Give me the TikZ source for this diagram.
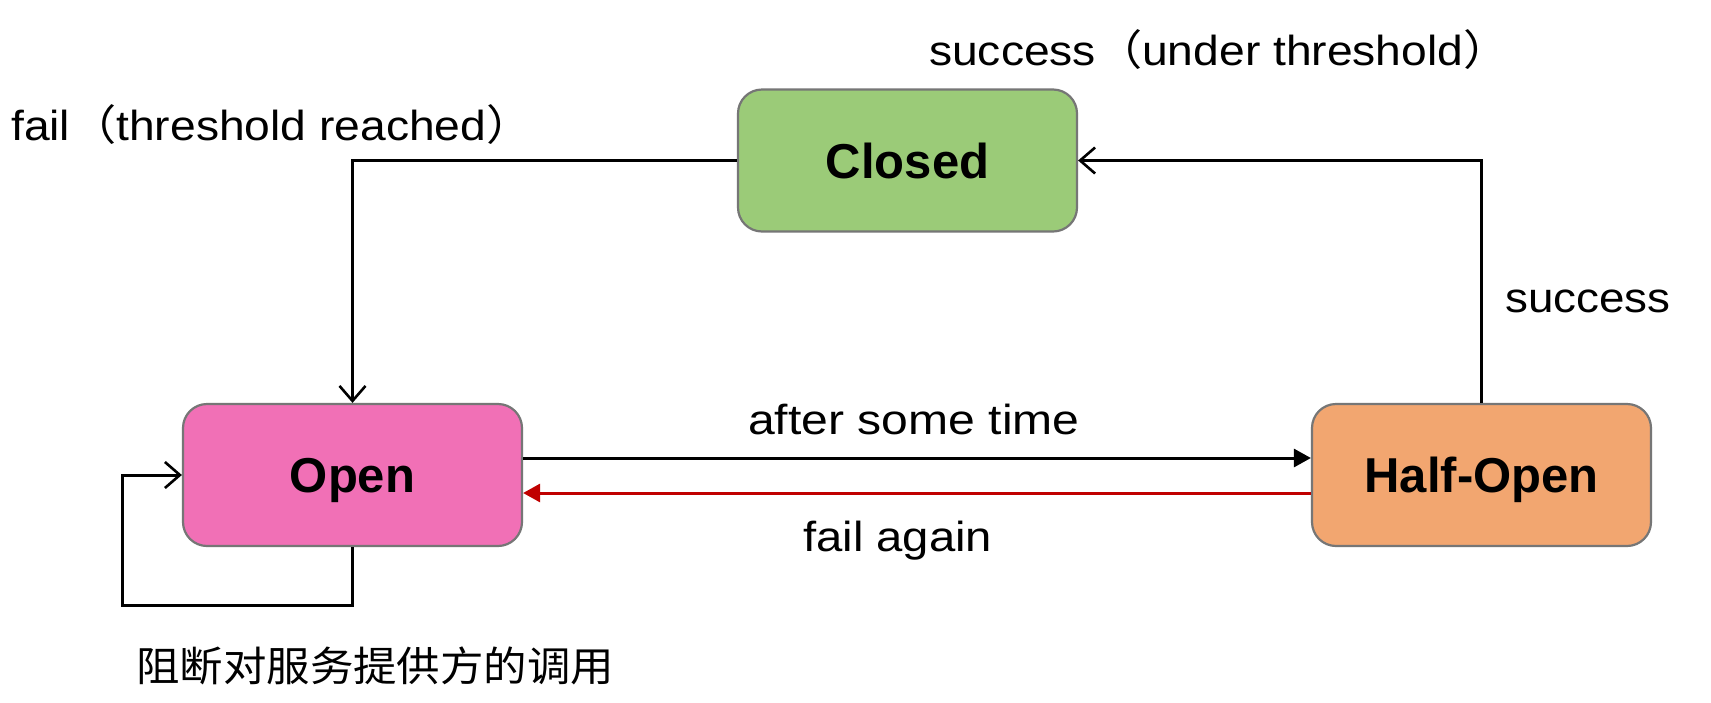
\documentclass[tikz,border=0pt]{standalone}
\usepackage{fontspec}
\usepackage{graphicx}
\setmainfont{Liberation Sans}
\newfontfamily\cjk{Noto Sans CJK SC}
\usetikzlibrary{arrows.meta}
\definecolor{closedgreen}{RGB}{155,203,120}
\definecolor{openpink}{RGB}{241,112,182}
\definecolor{halforange}{RGB}{242,166,112}
\definecolor{boxborder}{RGB}{118,118,118}
\definecolor{failred}{RGB}{192,0,0}
\newcommand\labfont{\fontsize{42}{50}\selectfont}
\newcommand\boxfont{\fontsize{49}{58}\selectfont\bfseries}
\newcommand\sx[2][1.095]{\scalebox{#1}[1]{#2}}
\begin{document}
\begin{tikzpicture}[x=1pt,y=-1pt,
  statebox/.style={rectangle, rounded corners=24pt, draw=boxborder, line width=2.2pt,
    minimum width=339pt, minimum height=142pt, inner sep=0pt,
    text height=35pt, text depth=0pt, font=\boxfont},
  lab/.style={inner sep=0pt, anchor=base west, font=\labfont},
  conn/.style={line width=3pt, draw=black},
  openarrow/.style={conn, -{Straight Barb[length=15pt,width=26pt,line width=2.6pt]}},
  fillarrow/.style={conn, -{Triangle[length=17pt,width=18pt]}}
]
\useasboundingbox (0,0) rectangle (1711,702);
\fill[white] (0,0) rectangle (1711,702);

\node[statebox, fill=closedgreen] (closed) at (907.5,160.5) {Closed};
\node[statebox, fill=openpink] (open) at (352.5,475) {Open};
\node[statebox, fill=halforange] (half) at (1481.5,475) {Half-Open};

% connectors
\draw[openarrow] (closed.west) -| (open.north);
\draw[openarrow] (half.north) |- (closed.east);
\draw[fillarrow] ([yshift=17pt]open.east) -- ([yshift=17pt]half.west);
\draw[conn, draw=failred, -{Triangle[length=17pt,width=18pt,fill=failred]}] ([yshift=-18pt]half.west) -- ([yshift=-18pt]open.east);
\draw[openarrow] (open.south) -- ++(0,58) -| ([xshift=-59pt]open.west) -- (open.west);

% labels
\node[lab] (lfail) at (11,140) {\sx[1.1]{fail{\cjk （}threshold reached{\cjk ）}}};
\node[lab] (lsuccu) at (929,65) {\sx[1.1]{success{\cjk （}under threshold{\cjk ）}}};
\node[lab] (lafter) at (748,434) {\sx[1.145]{after some time}};
\node[lab] (lfailag) at (803,551) {\sx[1.125]{fail again}};
\node[lab] (lsucc) at (1505,312) {\sx[1.09]{success}};
\node[lab, font=\fontsize{41}{50}\selectfont] (lblock) at (136,681) {\sx[1.06]{\cjk 阻断对服务提供方的调用}};
\end{tikzpicture}
\end{document}
